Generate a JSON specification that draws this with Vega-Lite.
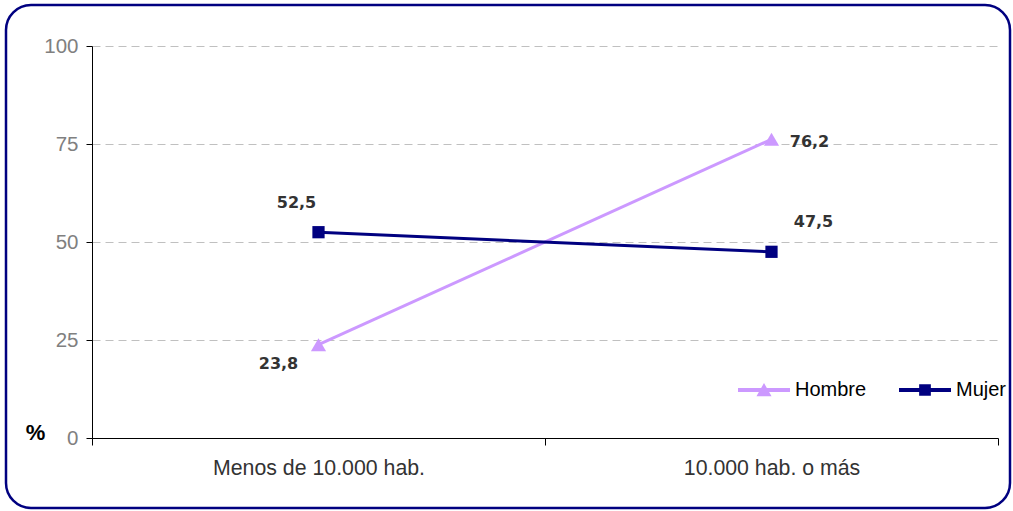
{
  "$schema": "https://vega.github.io/schema/vega-lite/v6.json",
  "width": 906,
  "height": 392,
  "autosize": "none",
  "padding": {"left": 92, "top": 46, "right": 15, "bottom": 73},
  "background": "white",
  "config": {
    "view": {"stroke": null},
    "font": "Liberation Sans",
    "locale": {"number": {"decimal": ",", "thousands": ".", "grouping": [3], "currency": ["", " €"]}}
  },
  "data": {"values": [
    {"zona": "Menos de 10.000 hab.", "sexo": "Hombre", "pct": 23.8},
    {"zona": "10.000 hab. o más", "sexo": "Hombre", "pct": 76.2},
    {"zona": "Menos de 10.000 hab.", "sexo": "Mujer", "pct": 52.5},
    {"zona": "10.000 hab. o más", "sexo": "Mujer", "pct": 47.5}
  ]},
  "layer": [
    {
      "data": {"values": [{}]},
      "mark": {"type": "rect", "filled": false, "stroke": "#000080", "strokeWidth": 2.5, "cornerRadius": 25},
      "encoding": {"x": {"value": -86}, "x2": {"value": 918}, "y": {"value": -41}, "y2": {"value": 462}}
    },
    {
      "mark": {"type": "line", "strokeWidth": 3},
      "encoding": {
        "x": {"field": "zona", "type": "nominal", "sort": ["Menos de 10.000 hab.", "10.000 hab. o más"],
          "scale": {"type": "band", "paddingInner": 0, "paddingOuter": 0},
          "axis": {"title": null, "labelAngle": 0, "labelLimit": 400, "labelFontSize": 21.3, "labelColor": "#333333", "tickBand": "extent", "tickSize": 7, "tickColor": "black", "domainColor": "black", "labelPadding": 12, "grid": false}},
        "y": {"field": "pct", "type": "quantitative", "scale": {"domain": [0, 100]},
          "axis": {"values": [0, 25, 50, 75, 100], "title": "%", "titleAngle": 0, "titleX": -57, "titleY": 386, "titleFontSize": 22, "titleFontWeight": "bold", "titleColor": "black", "titleAlign": "center", "titleBaseline": "middle", "labelFontSize": 20.5, "labelColor": "#808080", "labelPadding": 8, "tickSize": 6, "tickColor": "black", "domainColor": "black", "gridColor": "#c0c0c0", "gridDash": [8, 5], "grid": true}},
        "color": {"field": "sexo", "type": "nominal",
          "scale": {"domain": ["Hombre", "Mujer"], "range": ["#CC99FF", "#000080"]},
          "legend": {"title": null, "orient": "none", "legendX": 646, "legendY": 318, "direction": "horizontal",
            "labelFontSize": 20, "labelFont": "Liberation Sans", "labelColor": "black", "symbolSize": 2704, "columnPadding": 32, "labelOffset": 5,
            "encode": {"symbols": {"update": {
              "shape": {"signal": "datum.value === 'Hombre' ? 'M-1,-0.077H1V0.077H-1Z M-0.29,0.24L0,-0.27L0.29,0.24Z' : 'M-1,-0.077H1V0.077H-1Z M-0.225,-0.22H0.225V0.22H-0.225Z'"},
              "fill": {"signal": "scale('color', datum.value)"},
              "stroke": {"value": "transparent"},
              "strokeWidth": {"value": 0},
              "size": {"value": 2704},
              "opacity": {"value": 1}
            }}}}}
      }
    },
    {
      "transform": [{"filter": "datum.sexo === 'Hombre'"}],
      "mark": {"type": "point", "shape": "triangle-up", "filled": true, "opacity": 1, "size": 230, "fill": "#CC99FF", "stroke": null},
      "encoding": {
        "x": {"field": "zona", "type": "nominal", "sort": ["Menos de 10.000 hab.", "10.000 hab. o más"]},
        "y": {"field": "pct", "type": "quantitative"}
      }
    },
    {
      "transform": [{"filter": "datum.sexo === 'Mujer'"}],
      "mark": {"type": "square", "opacity": 1, "size": 150, "fill": "#000080"},
      "encoding": {
        "x": {"field": "zona", "type": "nominal", "sort": ["Menos de 10.000 hab.", "10.000 hab. o más"]},
        "y": {"field": "pct", "type": "quantitative"}
      }
    },
    {
      "transform": [{"filter": "datum.sexo === 'Hombre' && datum.zona === 'Menos de 10.000 hab.'"}],
      "mark": {"type": "text", "font": "DejaVu Sans", "fontWeight": "bold", "fontSize": 16, "fill": "#333333", "dx": -40, "dy": 19, "baseline": "middle", "align": "center"},
      "encoding": {"x": {"field": "zona", "type": "nominal", "sort": ["Menos de 10.000 hab.", "10.000 hab. o más"]}, "y": {"field": "pct", "type": "quantitative"}, "text": {"field": "pct", "type": "quantitative", "format": ".1f"}}
    },
    {
      "transform": [{"filter": "datum.sexo === 'Hombre' && datum.zona === '10.000 hab. o más'"}],
      "mark": {"type": "text", "font": "DejaVu Sans", "fontWeight": "bold", "fontSize": 16, "fill": "#333333", "dx": 38, "dy": 3, "baseline": "middle", "align": "center"},
      "encoding": {"x": {"field": "zona", "type": "nominal", "sort": ["Menos de 10.000 hab.", "10.000 hab. o más"]}, "y": {"field": "pct", "type": "quantitative"}, "text": {"field": "pct", "type": "quantitative", "format": ".1f"}}
    },
    {
      "transform": [{"filter": "datum.sexo === 'Mujer' && datum.zona === 'Menos de 10.000 hab.'"}],
      "mark": {"type": "text", "font": "DejaVu Sans", "fontWeight": "bold", "fontSize": 16, "fill": "#333333", "dx": -22, "dy": -29, "baseline": "middle", "align": "center"},
      "encoding": {"x": {"field": "zona", "type": "nominal", "sort": ["Menos de 10.000 hab.", "10.000 hab. o más"]}, "y": {"field": "pct", "type": "quantitative"}, "text": {"field": "pct", "type": "quantitative", "format": ".1f"}}
    },
    {
      "transform": [{"filter": "datum.sexo === 'Mujer' && datum.zona === '10.000 hab. o más'"}],
      "mark": {"type": "text", "font": "DejaVu Sans", "fontWeight": "bold", "fontSize": 16, "fill": "#333333", "dx": 42, "dy": -30, "baseline": "middle", "align": "center"},
      "encoding": {"x": {"field": "zona", "type": "nominal", "sort": ["Menos de 10.000 hab.", "10.000 hab. o más"]}, "y": {"field": "pct", "type": "quantitative"}, "text": {"field": "pct", "type": "quantitative", "format": ".1f"}}
    }
  ]
}
